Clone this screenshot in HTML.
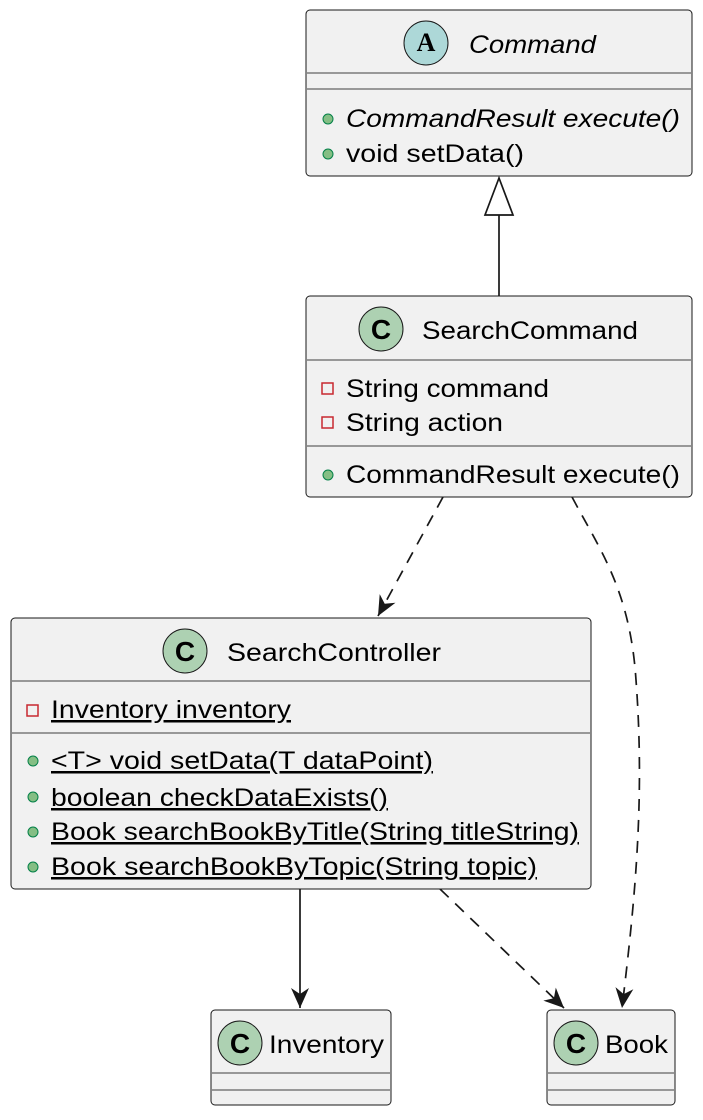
<!DOCTYPE html>
<html><head><meta charset="utf-8"><style>
html,body{margin:0;padding:0;background:#fff}
svg{display:block}
text{font-family:"Liberation Sans",sans-serif;font-size:25px;fill:#000}
</style></head><body>
<svg width="703" height="1120" viewBox="0 0 703 1120">
<defs>
<marker id="ah" markerWidth="24" markerHeight="24" refX="22" refY="12" orient="auto" markerUnits="userSpaceOnUse">
<path d="M2,3 L22,12 L2,21 L8,12 Z" fill="#181818"/>
</marker>
</defs>
<g stroke="#181818" stroke-width="1.7" fill="none">
<line x1="499" y1="215" x2="499" y2="296"/>
<polygon points="499,178 485,215 513,215" fill="#fff"/>
<line x1="443" y1="497" x2="378" y2="616" stroke-dasharray="12,9" marker-end="url(#ah)"/>
<path d="M572,497 C600,550 630,590 636,680 C645,800 635,900 622,1008" stroke-dasharray="12,9" marker-end="url(#ah)"/>
<line x1="300" y1="889" x2="300" y2="1008" marker-end="url(#ah)"/>
<line x1="440" y1="889" x2="564" y2="1008" stroke-dasharray="12,9" marker-end="url(#ah)"/>
</g>
<g stroke="#181818" stroke-width="1" fill="#f1f1f1">
<rect x="306" y="10" width="386" height="166" rx="4"/>
<rect x="306" y="296" width="386" height="201" rx="4"/>
<rect x="11" y="618" width="580" height="271" rx="4"/>
<rect x="211" y="1010" width="180" height="95" rx="4"/>
<rect x="547" y="1010" width="128" height="95" rx="4"/>
</g>
<g stroke="#7a7a7a" stroke-width="1.5">
<line x1="307" y1="73" x2="691" y2="73"/><line x1="307" y1="89" x2="691" y2="89"/>
<line x1="307" y1="360" x2="691" y2="360"/><line x1="307" y1="446" x2="691" y2="446"/>
<line x1="12" y1="681" x2="590" y2="681"/><line x1="12" y1="733" x2="590" y2="733"/>
<line x1="212" y1="1073" x2="390" y2="1073"/><line x1="212" y1="1090" x2="390" y2="1090"/>
<line x1="548" y1="1073" x2="674" y2="1073"/><line x1="548" y1="1090" x2="674" y2="1090"/>
</g>
<g stroke="#181818" stroke-width="1">
<circle cx="426" cy="43" r="22" fill="#add8d8"/>
<circle cx="381" cy="329" r="22" fill="#add1b2"/>
<circle cx="185" cy="651" r="22" fill="#add1b2"/>
<circle cx="240" cy="1043" r="22" fill="#add1b2"/>
<circle cx="576" cy="1043" r="22" fill="#add1b2"/>
</g>
<g text-anchor="middle">
<text x="426" y="51" style="font-family:'Liberation Serif',serif;font-size:26px;font-weight:bold">A</text>
<text x="381" y="339" style="font-size:28px;font-weight:bold">C</text>
<text x="185" y="661" style="font-size:28px;font-weight:bold">C</text>
<text x="240" y="1053" style="font-size:28px;font-weight:bold">C</text>
<text x="576" y="1053" style="font-size:28px;font-weight:bold">C</text>
</g>
<g fill="#84be84" stroke="#038048" stroke-width="1">
<circle cx="328" cy="119" r="5"/><circle cx="328" cy="154" r="5"/>
<circle cx="328" cy="475" r="5"/>
<circle cx="33" cy="761" r="5"/><circle cx="33" cy="797" r="5"/><circle cx="33" cy="832" r="5"/><circle cx="33" cy="867" r="5"/>
</g>
<g fill="none" stroke="#c82930" stroke-width="1.5">
<rect x="322" y="383" width="11" height="11"/><rect x="322" y="417" width="11" height="11"/>
<rect x="27" y="705" width="11" height="11"/>
</g>
<g lengthAdjust="spacingAndGlyphs">
<text x="469" y="53" font-style="italic" textLength="127" lengthAdjust="spacingAndGlyphs">Command</text>
<text x="346" y="127" font-style="italic" textLength="334" lengthAdjust="spacingAndGlyphs">CommandResult execute()</text>
<text x="346" y="162" textLength="178" lengthAdjust="spacingAndGlyphs">void setData()</text>
<text x="422" y="339" textLength="216" lengthAdjust="spacingAndGlyphs">SearchCommand</text>
<text x="346" y="397" textLength="203" lengthAdjust="spacingAndGlyphs">String command</text>
<text x="346" y="431" textLength="157" lengthAdjust="spacingAndGlyphs">String action</text>
<text x="346" y="483" textLength="334" lengthAdjust="spacingAndGlyphs">CommandResult execute()</text>
<text x="227" y="661" textLength="214" lengthAdjust="spacingAndGlyphs">SearchController</text>
<text x="51" y="718" textLength="240" lengthAdjust="spacingAndGlyphs" text-decoration="underline">Inventory inventory</text>
<text x="51" y="769" textLength="382" lengthAdjust="spacingAndGlyphs" text-decoration="underline">&lt;T&gt; void setData(T dataPoint)</text>
<text x="51" y="806" textLength="337" lengthAdjust="spacingAndGlyphs" text-decoration="underline">boolean checkDataExists()</text>
<text x="51" y="840" textLength="528" lengthAdjust="spacingAndGlyphs" text-decoration="underline">Book searchBookByTitle(String titleString)</text>
<text x="51" y="875" textLength="486" lengthAdjust="spacingAndGlyphs" text-decoration="underline">Book searchBookByTopic(String topic)</text>
<text x="269" y="1053" textLength="115" lengthAdjust="spacingAndGlyphs">Inventory</text>
<text x="605" y="1053" textLength="63" lengthAdjust="spacingAndGlyphs">Book</text>
</g>
</svg>
</body></html>
